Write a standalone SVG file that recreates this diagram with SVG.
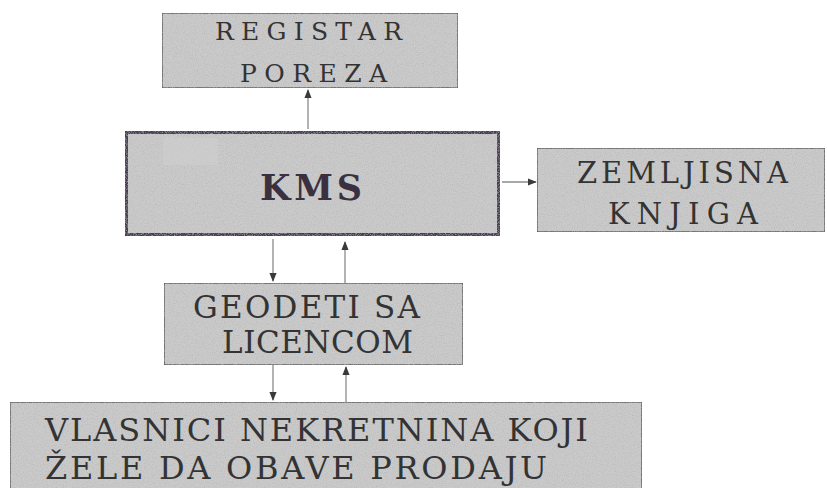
<svg xmlns="http://www.w3.org/2000/svg" width="827" height="488" viewBox="0 0 827 488">
  <defs>
    <filter id="grain" x="0" y="0" width="100%" height="100%">
      <feTurbulence type="fractalNoise" baseFrequency="0.9" numOctaves="2" seed="3" result="n"/>
      <feColorMatrix in="n" type="matrix" values="0 0 0 0 0.45  0 0 0 0 0.45  0 0 0 0 0.45  0 0 0 1.6 -0.7" result="dots"/>
      <feComposite in="dots" in2="SourceGraphic" operator="in" result="d2"/>
      <feMerge><feMergeNode in="SourceGraphic"/><feMergeNode in="d2"/></feMerge>
    </filter>
    <marker id="ah" viewBox="0 0 10 10" refX="9" refY="5" markerWidth="9" markerHeight="9" markerUnits="userSpaceOnUse" orient="auto">
      <path d="M0,1 L10,5 L0,9 Z" fill="#3a3a3a"/>
    </marker>
  </defs>
  <style>
    .box { fill: #cacaca; stroke: #5a5a5a; stroke-width: 1.5; }
    .kms { fill: #cacaca; stroke: #4a3d54; stroke-width: 5; }
    .conn line { stroke: #8a8a8a; stroke-width: 1.3; marker-end: url(#ah); }
    text { font-family: "DejaVu Serif", "Liberation Serif", "Noto Serif", serif; fill: #333333; }
  </style>
  <rect width="827" height="488" fill="#ffffff"/>

  <g id="registar">
    <rect class="box" x="162" y="13" width="296" height="75" filter="url(#grain)"/>
    <text font-size="25" x="215" y="40" textLength="187" lengthAdjust="spacing">REGISTAR</text>
    <text font-size="25" x="240" y="82" textLength="147" lengthAdjust="spacing">POREZA</text>
  </g>

  <g id="kms">
    <rect class="kms" x="125.5" y="131.5" width="374" height="104" filter="url(#grain)"/>
    <rect x="163" y="138" width="55" height="27" fill="#d0d0d0" opacity="0.5"/>
    <text font-size="35" font-weight="bold" x="260" y="200" textLength="102" lengthAdjust="spacing" style="fill:#3a3040">KMS</text>
  </g>

  <g id="zemljisna">
    <rect class="box" x="537" y="148" width="288" height="84" filter="url(#grain)"/>
    <text font-size="29" x="577" y="183" textLength="211" lengthAdjust="spacing">ZEMLJISNA</text>
    <text font-size="29" x="608" y="224" textLength="150" lengthAdjust="spacing">KNJIGA</text>
  </g>

  <g id="geodeti">
    <rect class="box" x="164" y="283" width="299" height="82" filter="url(#grain)"/>
    <text font-size="31" x="193" y="318" textLength="227" lengthAdjust="spacing">GEODETI SA</text>
    <text font-size="31" x="222" y="353" textLength="191" lengthAdjust="spacing">LICENCOM</text>
  </g>

  <g id="vlasnici">
    <rect class="box" x="10" y="402" width="632" height="92" filter="url(#grain)"/>
    <text font-size="32" x="45" y="441" textLength="543" lengthAdjust="spacing">VLASNICI NEKRETNINA KOJI</text>
    <text font-size="32" x="45" y="479" textLength="502" lengthAdjust="spacing">ŽELE DA OBAVE PRODAJU</text>
  </g>

  <g id="connectors" class="conn">
    <line x1="308" y1="129" x2="308" y2="90"/>
    <line x1="502" y1="182" x2="536" y2="182"/>
    <line x1="273" y1="239" x2="273" y2="281"/>
    <line x1="345" y1="283" x2="345" y2="242"/>
    <line x1="273" y1="365" x2="273" y2="400"/>
    <line x1="346" y1="402" x2="346" y2="367"/>
  </g>
</svg>
